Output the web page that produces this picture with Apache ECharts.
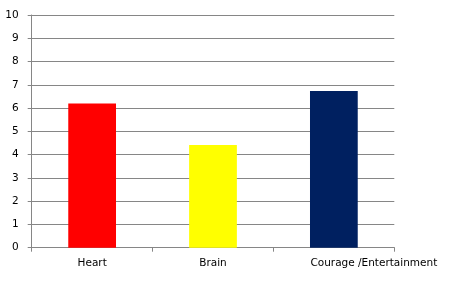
<!DOCTYPE html>
<html>
<head>
<meta charset="utf-8">
<script src="https://cdn.jsdelivr.net/npm/echarts@6/dist/echarts.min.js"></script>
<style>html,body{margin:0;padding:0;background:#fff;}#c{width:453px;height:291px;}</style>
</head>
<body>
<div id="c"></div>
<script>
var categories = ["Heart", "Brain", "Courage /Entertainment"];
var values = [6.2, 4.41, 6.73];
var barColors = ["#FF0000", "#FFFF00", "#002060"];
var yTicks = [0, 1, 2, 3, 4, 5, 6, 7, 8, 9, 10];

var chart = echarts.init(document.getElementById('c'), null, {renderer: 'canvas'});
var font = "'DejaVu Sans', Verdana, sans-serif";
chart.setOption({
  animation: false,
  backgroundColor: '#ffffff',
  grid: {left: 31.7, right: 58.7, top: 15, bottom: 43.3, containLabel: false},
  xAxis: {
    type: 'category',
    data: categories.map(function (c, i) {
      return i === 2 ? {value: c, textStyle: {padding: [0, 0, 0, 80]}} : c;
    }),
    boundaryGap: true,
    axisLine: {show: true, lineStyle: {color: '#868686', width: 1}},
    axisTick: {show: true, length: 4, lineStyle: {color: '#868686'}},
    axisLabel: {color: '#000', fontFamily: font, fontSize: 10.5, margin: 10, interval: 0}
  },
  yAxis: {
    type: 'value',
    min: yTicks[0],
    max: yTicks[yTicks.length - 1],
    interval: 1,
    axisLine: {show: true, lineStyle: {color: '#868686', width: 1}},
    axisTick: {show: true, length: 4, lineStyle: {color: '#868686'}},
    splitLine: {show: true, lineStyle: {color: '#868686', width: 1}},
    axisLabel: {color: '#000', fontFamily: font, fontSize: 10.5, margin: 13}
  },
  series: [{
    type: 'bar',
    barWidth: '39.5%',
    data: values.map(function (v, i) {
      return {value: v, itemStyle: {color: barColors[i]}};
    })
  }]
});
</script>
</body>
</html>
